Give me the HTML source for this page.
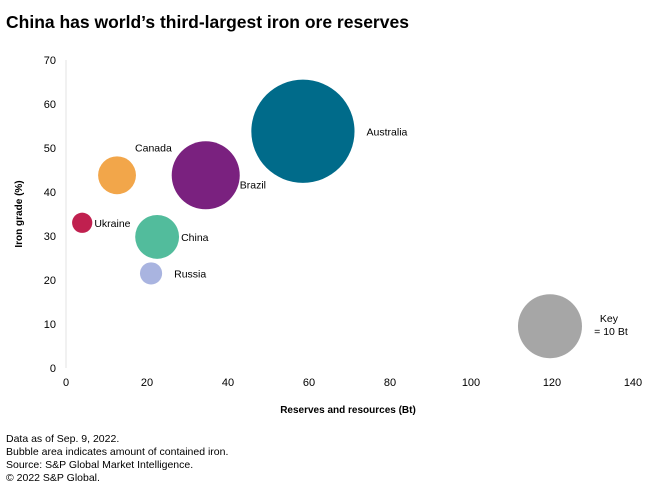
<!DOCTYPE html>
<html><head><meta charset="utf-8"><style>
body{margin:0;background:#fff;font-family:"Liberation Sans",sans-serif;}
svg text{font-family:"Liberation Sans",sans-serif;fill:#000;}
</style></head><body>
<svg width="660" height="494">
<text x="6" y="28" font-size="17.5" font-weight="bold">China has world’s third-largest iron ore reserves</text>
<line x1="66" y1="60" x2="66" y2="368" stroke="#e3e3e3"/>
<g id="yt"></g><g id="xt"></g><g id="bub"></g>
<text x="0" y="0" transform="translate(22,214) rotate(-90)" text-anchor="middle" font-size="10" font-weight="bold">Iron grade (%)</text>
<text x="348" y="413" text-anchor="middle" font-size="10" font-weight="bold">Reserves and resources (Bt)</text>
<g font-size="10.5">
<text x="6" y="442">Data as of Sep. 9, 2022.</text>
<text x="6" y="455">Bubble area indicates amount of contained iron.</text>
<text x="6" y="468">Source: S&amp;P Global Market Intelligence.</text>
<text x="6" y="481">© 2022 S&amp;P Global.</text>
</g>
</svg>
<script>
const names=["Australia","Brazil","Canada","China","Ukraine","Russia","Key"];
const xs=[58.5,34.5,12.6,22.5,4.0,21.0,119.5];
const ys=[53.8,43.8,43.8,29.8,33.0,21.5,9.5];
const sizes=[26,11.3,3.5,4.7,1.0,1.2,10];
const colors=["#006b8a","#7a217f","#f2a64a","#52bc9c","#c0204f","#a9b4e0","#a6a6a6"];
const xTicks=[0,20,40,60,80,100,120,140];
const yTicks=[0,10,20,30,40,50,60,70];
const X=v=>66+v*4.05, Y=v=>368-v*4.4, R=s=>32*Math.sqrt(s/10);
const NS="http://www.w3.org/2000/svg";
function mk(t,a,p){const e=document.createElementNS(NS,t);for(const k in a)e.setAttribute(k,a[k]);p.appendChild(e);return e;}
const yt=document.getElementById('yt'),xt=document.getElementById('xt'),bub=document.getElementById('bub');
yTicks.forEach(v=>{const t=mk('text',{x:56,y:Y(v)+4,'text-anchor':'end','font-size':11},yt);t.textContent=v;

});
xTicks.forEach(v=>{const t=mk('text',{x:X(v),y:386,'text-anchor':'middle','font-size':11},xt);t.textContent=v;

});
const lab={Australia:[1,12,4,'start'],Brazil:[1,0,13,'start'],Canada:[0,18,-24,'start'],China:[1,2,4,'start'],Ukraine:[1,2,4,'start'],Russia:[1,12,4,'start'],Key:[1,16,-2,'start']};
names.forEach((n,i)=>{const cx=X(xs[i]),cy=Y(ys[i]),r=R(sizes[i]);
const c=mk('circle',{cx:cx,cy:cy,r:r,fill:colors[i]},bub);


const L=lab[n];
if(n==='Key'){const t=mk('text',{x:cx+r+27,y:cy-4,'font-size':10.5,'text-anchor':'middle'},bub);t.textContent='Key';


const t2=mk('text',{x:cx+r+29,y:cy+9,'font-size':10.5,'text-anchor':'middle'},bub);t2.textContent='= 10 Bt';

return;}
const tx=L[0]?cx+r+L[1]:cx+L[1];
const t=mk('text',{x:tx,y:cy+L[2],'font-size':10.5},bub);t.textContent=n;

});
</script>
</body></html>
